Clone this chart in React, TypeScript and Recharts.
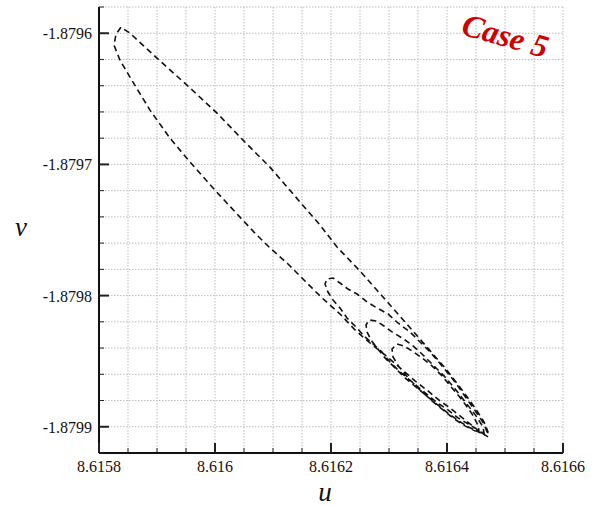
import React from "react";
import { LineChart, Line, XAxis, YAxis, CartesianGrid } from "recharts";

// trajectory in the (u, v) plane, split into the successive loops
const loopAU = [
  8.6164707, 8.6164569, 8.6164397, 8.6164224, 8.6164052, 8.6163879, 8.6163672, 8.6163448, 8.616319, 8.6162931,
  8.6162672, 8.6162414, 8.6162155, 8.6161845, 8.6161552, 8.6161259, 8.6160948, 8.6160672, 8.6160397, 8.6159966,
  8.6159569, 8.6159224, 8.6158879, 8.6158586, 8.6158362, 8.6158259, 8.6158293, 8.6158379,
  8.6158535, 8.6159, 8.6159517, 8.6160035, 8.6160483, 8.6160948, 8.6161466, 8.616181, 8.6162104, 8.61625,
  8.6162897, 8.6163276, 8.6163621, 8.6163966, 8.6164259, 8.6164483, 8.6164638, 8.6164707,
];
const loopAV = [
  -1.8799077, -1.8799039, -1.8798978, -1.8798917, -1.8798856, -1.8798803, -1.8798727, -1.879865, -1.8798551, -1.8798452,
  -1.8798361, -1.8798262, -1.879814, -1.8798018, -1.8797889, -1.8797759, -1.8797637, -1.8797516, -1.8797386, -1.879718,
  -1.8796982, -1.87968, -1.8796586, -1.8796373, -1.8796206, -1.8796091, -1.8796008, -1.8795954,
  -1.8796, -1.879619, -1.8796396, -1.8796609, -1.8796815, -1.8797021, -1.8797287, -1.8797462, -1.879763, -1.8797813,
  -1.8798011, -1.8798201, -1.8798376, -1.8798551, -1.8798719, -1.8798856, -1.8798963, -1.8799039,
];
const loopBU = [
  8.6164672, 8.6164535, 8.6164362, 8.616419, 8.6164017, 8.616381, 8.6163603, 8.6163397, 8.616319, 8.6163017,
  8.6162879, 8.6162707, 8.6162586, 8.6162448, 8.6162276, 8.6162155, 8.6162035, 8.6161948, 8.6161897, 8.6161931,
  8.6162035, 8.6162155, 8.6162293, 8.6162448, 8.6162621, 8.6162793, 8.6162983, 8.6163155, 8.6163362, 8.61635,
  8.6163707, 8.6163914, 8.6164138, 8.6164328, 8.61645, 8.6164638, 8.616469,
];
const loopBV = [
  -1.8799069, -1.8799024, -1.8798978, -1.8798932, -1.8798871, -1.879881, -1.8798734, -1.8798658, -1.8798582, -1.8798506,
  -1.879843, -1.8798361, -1.8798315, -1.8798247, -1.8798171, -1.8798094, -1.8798034, -1.8797973, -1.8797912, -1.8797874,
  -1.8797866, -1.8797904, -1.879795, -1.8797988, -1.8798049, -1.8798094, -1.879814, -1.8798209, -1.8798277, -1.8798338,
  -1.879843, -1.8798536, -1.8798658, -1.879878, -1.8798887, -1.8798978, -1.8799039,
];
const loopCU = [
  8.6164569, 8.6164397, 8.6164224, 8.6164035, 8.6163862, 8.616369, 8.6163483, 8.6163276, 8.6163104, 8.6162931,
  8.6162793, 8.616269, 8.6162621, 8.6162604, 8.6162655,
  8.6162776, 8.6162914, 8.6163052, 8.6163224, 8.6163397, 8.6163569, 8.6163741, 8.6163948, 8.6164155, 8.6164328,
  8.61645, 8.6164621, 8.6164638,
];
const loopCV = [
  -1.8799046, -1.8799008, -1.8798962, -1.8798902, -1.8798841, -1.879878, -1.8798704, -1.8798628, -1.8798551, -1.8798475,
  -1.8798399, -1.8798338, -1.8798277, -1.8798224, -1.8798186,
  -1.8798193, -1.8798232, -1.8798277, -1.8798323, -1.8798376, -1.8798445, -1.8798521, -1.8798612, -1.8798719, -1.8798818,
  -1.8798917, -1.8799001, -1.8799046,
];
const loopDU = [
  8.6164483, 8.616431, 8.6164121, 8.6163931, 8.6163741, 8.6163552, 8.6163345, 8.6163172, 8.6163069, 8.6163052,
  8.6163138, 8.6163259, 8.6163397, 8.6163569, 8.6163741, 8.6163914, 8.6164086, 8.6164259, 8.6164431, 8.6164535,
  8.6164552,
];
const loopDV = [
  -1.8799031, -1.8798993, -1.8798939, -1.8798871, -1.8798803, -1.8798727, -1.8798636, -1.8798543, -1.8798468, -1.8798407,
  -1.8798369, -1.8798384, -1.8798422, -1.8798475, -1.8798536, -1.8798612, -1.8798704, -1.8798795, -1.8798902, -1.8798986,
  -1.8799031,
];

const xTicks = [
  8.6158, 8.61585, 8.6159, 8.61595, 8.616, 8.61605, 8.6161, 8.61615, 8.6162,
  8.61625, 8.6163, 8.61635, 8.6164, 8.61645, 8.6165, 8.61655, 8.6166,
];
const xLabels = [8.6158, 8.616, 8.6162, 8.6164, 8.6166];
const yTicks = [
  -1.87992, -1.8799, -1.87988, -1.87986, -1.87984, -1.87982, -1.8798, -1.87978, -1.87976,
  -1.87974, -1.87972, -1.8797, -1.87968, -1.87966, -1.87964, -1.87962, -1.8796, -1.87958,
];
const yLabels = [-1.8799, -1.8798, -1.8797, -1.8796];

const uAll = [...loopAU, ...loopBU, ...loopCU, ...loopDU];
const vAll = [...loopAV, ...loopBV, ...loopCV, ...loopDV];
const data = uAll.map((u, i) => ({ u, v: vAll[i] }));

const FONT = "'Liberation Serif', 'Times New Roman', 'DejaVu Serif', 'Noto Serif', serif";

const isMajor = (val: number, list: number[]) => list.some((m) => Math.abs(m - val) < 1e-9);

const XTick = (props: any) => {
  const { x, y, payload } = props;
  const major = isMajor(payload.value, xLabels);
  return (
    <g>
      <line x1={x} x2={x} y1={y} y2={y - (major ? 10 : 5)} stroke="#222" strokeWidth={major ? 2 : 1} />
      {major && (
        <text x={x} y={y + 19} textAnchor="middle" fontSize={16} style={{ fontFamily: FONT }} fill="#111">
          {String(payload.value)}
        </text>
      )}
    </g>
  );
};

const YTick = (props: any) => {
  const { x, y, payload } = props;
  const major = isMajor(payload.value, yLabels);
  return (
    <g>
      <line x1={x} x2={x + (major ? 10 : 5)} y1={y} y2={y} stroke="#222" strokeWidth={major ? 2 : 1} />
      {major && (
        <text x={x - 7} y={y + 6} textAnchor="end" fontSize={16} style={{ fontFamily: FONT }} fill="#111">
          {String(payload.value)}
        </text>
      )}
    </g>
  );
};

export default function App() {
  return (
    <div style={{ position: "absolute", left: 0, top: 0, width: 595, height: 506, background: "#fff", fontFamily: FONT }}>
      <LineChart width={595} height={506} data={data} margin={{ top: 7, right: 32, bottom: 3, left: 9 }}>
        <CartesianGrid stroke="#bdbdbd" strokeDasharray="1.5 1.5" />
        <XAxis
          dataKey="u"
          type="number"
          domain={[8.6158, 8.6166]}
          ticks={xTicks}
          interval={0}
          height={50}
          tickSize={0}
          tickMargin={0}
          tick={<XTick />}
          axisLine={{ stroke: "#111", strokeWidth: 2 }}
          allowDataOverflow
        />
        <XAxis
          xAxisId="top"
          orientation="top"
          type="number"
          domain={[8.6158, 8.6166]}
          height={0}
          tick={false}
          tickLine={false}
          axisLine={{ stroke: "#444", strokeWidth: 2 }}
        />
        <YAxis
          dataKey="v"
          type="number"
          domain={[-1.87992, -1.87958]}
          ticks={yTicks}
          interval={0}
          width={90}
          tickSize={0}
          tickMargin={0}
          tick={<YTick />}
          axisLine={{ stroke: "#111", strokeWidth: 2 }}
          allowDataOverflow
        />
        <YAxis
          yAxisId="right"
          orientation="right"
          type="number"
          domain={[-1.87992, -1.87958]}
          width={0}
          tick={false}
          tickLine={false}
          axisLine={{ stroke: "#444", strokeWidth: 2 }}
        />
        <Line
          dataKey="v"
          type="linear"
          stroke="#111"
          strokeWidth={1.6}
          strokeDasharray="6 4"
          dot={false}
          isAnimationActive={false}
        />
      </LineChart>
      <div
        style={{
          position: "absolute",
          left: 325,
          top: 479,
          transform: "translateX(-50%)",
          fontStyle: "italic",
          fontSize: 27,
          lineHeight: 1,
          color: "#111",
        }}
      >
        u
      </div>
      <div
        style={{
          position: "absolute",
          left: 15,
          top: 214,
          fontStyle: "italic",
          fontSize: 27,
          lineHeight: 1,
          color: "#111",
        }}
      >
        v
      </div>
      <div
        style={{
          position: "absolute",
          left: 468,
          top: 6,
          transform: "rotate(16deg)",
          transformOrigin: "left top",
          fontStyle: "italic",
          fontWeight: "bold",
          fontSize: 32,
          color: "#d00000",
          whiteSpace: "nowrap",
        }}
      >
        Case 5
      </div>
    </div>
  );
}
